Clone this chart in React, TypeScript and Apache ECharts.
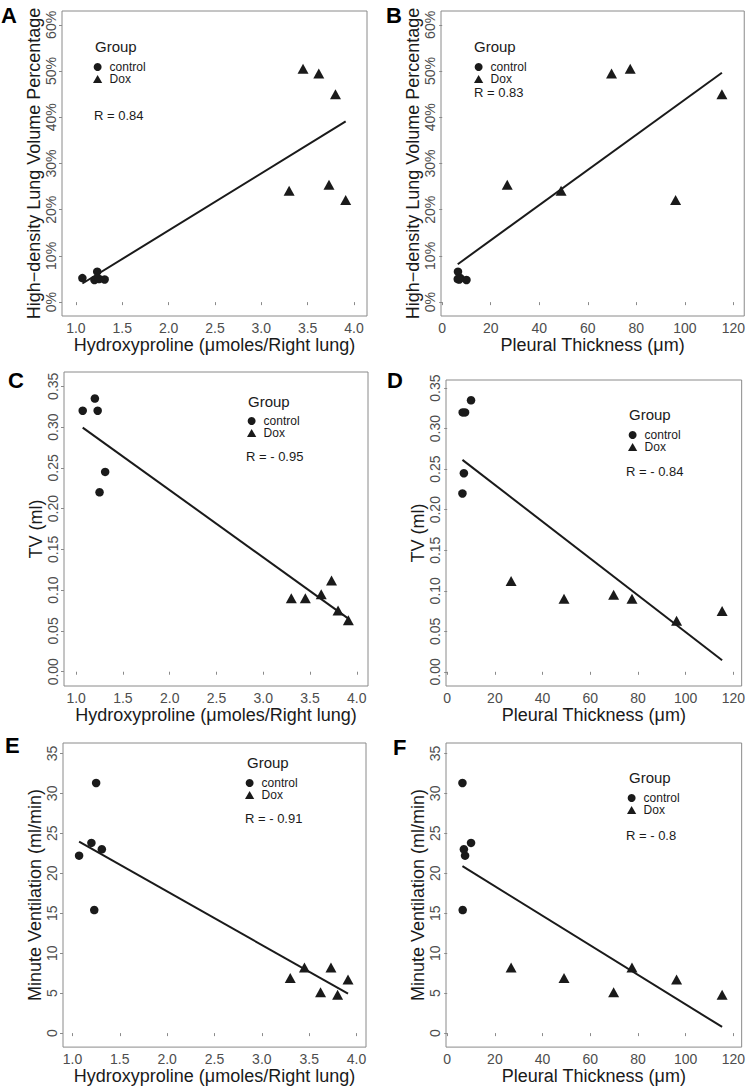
import React, { useEffect, useRef } from "react";
import * as echarts from "echarts";

// ---- data (one entry per animal; controls first, then Dox) ----
// Hydroxyproline (μmoles/Right lung)
const hydroControl = [1.07, 1.2, 1.23, 1.25, 1.31];
const hydroDox = [3.3, 3.45, 3.62, 3.73, 3.8, 3.91];
// Pleural thickness (μm)
const pleuralControl = [7.5, 10.0, 6.5, 6.4, 7.0];
const pleuralDox = [49.0, 77.5, 69.8, 26.8, 115.3, 96.2];
// High-density lung volume percentage (%)
const hdlvControl = [5.2, 4.8, 6.6, 5.0, 4.9];
const hdlvDox = [24.1, 50.5, 49.5, 25.4, 45.0, 22.1];
// Tidal volume (ml)
const tvControl = [0.32, 0.335, 0.32, 0.22, 0.245];
const tvDox = [0.09, 0.09, 0.095, 0.112, 0.075, 0.063];
// Minute ventilation (ml/min)
const mvControl = [22.2, 23.8, 15.4, 31.3, 23.0];
const mvDox = [6.9, 8.2, 5.1, 8.2, 4.8, 6.7];

// ---- tick labels ----
const hydroTicks = [1.0, 1.5, 2.0, 2.5, 3.0, 3.5, 4.0];
const pleuralTicks = [0, 20, 40, 60, 80, 100, 120];
const hdlvTicks = [0, 10, 20, 30, 40, 50, 60];
const tvTicks = [0, 0.05, 0.1, 0.15, 0.2, 0.25, 0.3, 0.35];
const mvTicks = [0, 5, 10, 15, 20, 25, 30, 35];

const panelLetters = ["A", "B", "C", "D", "E", "F"];
const rLabels = ["R = 0.84", "R = 0.83", "R = - 0.95", "R = - 0.84", "R = - 0.91", "R = - 0.8"];
const groupNames = ["control", "Dox"];

const FONT = "'Liberation Sans', Arial, Helvetica, sans-serif";
const INK = "#1a1a1a";

type Fmt = (v: number) => string;
const fmtHydro: Fmt = (v) => v.toFixed(1);
const fmtInt: Fmt = (v) => String(Math.round(v));
const fmtPct: Fmt = (v) => Math.round(v) + "%";
const fmtTv: Fmt = (v) => v.toFixed(2);

const xHydro = { c: hydroControl, d: hydroDox, ticks: hydroTicks, fmt: fmtHydro, title: "Hydroxyproline (μmoles/Right lung)" };
const xPleural = { c: pleuralControl, d: pleuralDox, ticks: pleuralTicks, fmt: fmtInt, title: "Pleural Thickness (μm)" };
const yHdlv = { c: hdlvControl, d: hdlvDox, ticks: hdlvTicks, fmt: fmtPct, title: "High−density Lung Volume Percentage" };
const yTv = { c: tvControl, d: tvDox, ticks: tvTicks, fmt: fmtTv, title: "TV (ml)" };
const yMv = { c: mvControl, d: mvDox, ticks: mvTicks, fmt: fmtInt, title: "Minute Ventilation (ml/min)" };

// layout of each panel (pixels / axis extents)
const panels = [
  { x: xHydro, y: yHdlv, grid: [62, 11, 305, 305], xr: [0.85, 4.14], yr: [-3, 63], xGap: 16, letter: [1, 4], group: [95, 39], leg: [93, 61], r: [94, 109] },
  { x: xPleural, y: yHdlv, grid: [441, 11, 305, 305], xr: [-0.5, 124.5], yr: [-3, 63], xGap: 16, letter: [386, 4], group: [474, 39], leg: [474, 61], r: [474, 86] },
  { x: xHydro, y: yTv, grid: [64, 372, 304, 314], xr: [0.87, 4.12], yr: [-0.0175, 0.3675], xGap: 17, letter: [8, 369], group: [248, 394], leg: [247, 415], r: [246, 450] },
  { x: xPleural, y: yTv, grid: [446, 380, 301, 306], xr: [-0.5, 123.5], yr: [-0.0175, 0.36], xGap: 17, letter: [387, 369], group: [629, 407], leg: [628, 429], r: [626, 465] },
  { x: xHydro, y: yMv, grid: [63, 743, 303, 306], xr: [0.9, 4.1], yr: [-1.75, 36.3], xGap: 12, letter: [5, 734], group: [247, 755], leg: [245, 777], r: [245, 812] },
  { x: xPleural, y: yMv, grid: [446, 743, 300, 306], xr: [-0.5, 123.5], yr: [-1.75, 36.3], xGap: 12, letter: [393, 736], group: [629, 770], leg: [627, 792], r: [626, 829] },
];

function zip(a: number[], b: number[]) {
  return a.map((v, i) => [v, b[i]]);
}

// least-squares fit line over the observed x range
function fitLine(xs: number[], ys: number[]) {
  const n = xs.length;
  const mx = xs.reduce((s, v) => s + v, 0) / n;
  const my = ys.reduce((s, v) => s + v, 0) / n;
  let sxy = 0;
  let sxx = 0;
  for (let i = 0; i < n; i++) {
    sxy += (xs[i] - mx) * (ys[i] - my);
    sxx += (xs[i] - mx) * (xs[i] - mx);
  }
  const b = sxy / sxx;
  const a = my - b * mx;
  const x0 = Math.min(...xs);
  const x1 = Math.max(...xs);
  return [
    [x0, a + b * x0],
    [x1, a + b * x1],
  ];
}

function buildOption() {
  const grid: any[] = [];
  const xAxis: any[] = [];
  const yAxis: any[] = [];
  const series: any[] = [];
  const legend: any[] = [];
  const graphic: any[] = [];

  panels.forEach((p, i) => {
    const [left, top, width, height] = p.grid;
    grid.push({ left, top, width, height, show: true, borderColor: "#8a8a8a", borderWidth: 1, backgroundColor: "transparent" });

    xAxis.push({
      gridIndex: i,
      type: "value",
      min: p.xr[0],
      max: p.xr[1],
      axisLine: { show: false },
      splitLine: { show: false },
      axisTick: { show: true, length: 3, lineStyle: { color: "#8a8a8a" }, customValues: p.x.ticks },
      axisLabel: { customValues: p.x.ticks, formatter: p.x.fmt, fontSize: 14, color: "#4d4d4d", margin: 5, fontFamily: FONT },
      name: p.x.title,
      nameLocation: "middle",
      nameGap: p.xGap,
      nameTextStyle: { fontSize: 18, color: INK, fontFamily: FONT },
    });

    yAxis.push({
      gridIndex: i,
      type: "value",
      min: p.yr[0],
      max: p.yr[1],
      axisLine: { show: false },
      splitLine: { show: false },
      axisTick: { show: true, length: 3, lineStyle: { color: "#8a8a8a" }, customValues: p.y.ticks },
      axisLabel: { customValues: p.y.ticks, formatter: p.y.fmt, fontSize: 14, color: "#4d4d4d", margin: 4, rotate: 90, fontFamily: FONT },
      name: p.y.title,
      nameLocation: "middle",
      nameGap: 17,
      nameRotate: 90,
      nameTextStyle: { fontSize: 18, color: INK, fontFamily: FONT },
    });

    const allX = p.x.c.concat(p.x.d);
    const allY = p.y.c.concat(p.y.d);

    series.push({
      name: groupNames[0],
      type: "scatter",
      xAxisIndex: i,
      yAxisIndex: i,
      symbol: "circle",
      symbolSize: 8.5,
      itemStyle: { color: INK, opacity: 1 },
      data: zip(p.x.c, p.y.c),
      z: 3,
    });
    series.push({
      name: groupNames[1],
      type: "scatter",
      xAxisIndex: i,
      yAxisIndex: i,
      symbol: "triangle",
      symbolSize: [11, 10],
      itemStyle: { color: INK, opacity: 1 },
      data: zip(p.x.d, p.y.d),
      z: 3,
    });
    series.push({
      name: "fit",
      type: "line",
      xAxisIndex: i,
      yAxisIndex: i,
      showSymbol: false,
      symbol: "none",
      lineStyle: { color: INK, width: 2 },
      data: fitLine(allX, allY),
      z: 2,
    });

    legend.push({
      left: p.leg[0],
      top: p.leg[1],
      orient: "vertical",
      padding: 0,
      itemGap: 0,
      itemWidth: 14,
      itemHeight: 8,
      selectedMode: false,
      textStyle: { fontSize: 12, lineHeight: 12, color: INK, fontFamily: FONT },
      itemStyle: { color: INK },
      data: [
        { name: groupNames[0], icon: "circle" },
        { name: groupNames[1], icon: "path://M5,0L10,8.66L0,8.66Z" },
      ],
    });

    graphic.push({
      type: "text",
      left: p.letter[0],
      top: p.letter[1],
      style: { text: panelLetters[i], fontSize: 22, fontWeight: "bold", fill: "#000", fontFamily: FONT },
    });
    graphic.push({
      type: "text",
      left: p.group[0],
      top: p.group[1],
      style: { text: "Group", fontSize: 15, fill: INK, fontFamily: FONT },
    });
    graphic.push({
      type: "text",
      left: p.r[0],
      top: p.r[1],
      style: { text: rLabels[i], fontSize: 13, fill: INK, fontFamily: FONT },
    });
  });

  return {
    animation: false,
    backgroundColor: "#ffffff",
    textStyle: { fontFamily: FONT },
    grid,
    xAxis,
    yAxis,
    series,
    legend,
    graphic,
  };
}

export default function App() {
  const ref = useRef<HTMLDivElement>(null);

  useEffect(() => {
    document.body.style.margin = "0";
    if (!ref.current) return;
    const chart = echarts.init(ref.current, undefined, { renderer: "svg" });
    chart.setOption(buildOption() as any);
    return () => {
      chart.dispose();
    };
  }, []);

  return <div ref={ref} style={{ position: "absolute", left: 0, top: 0, width: 748, height: 1086, background: "#fff" }} />;
}
